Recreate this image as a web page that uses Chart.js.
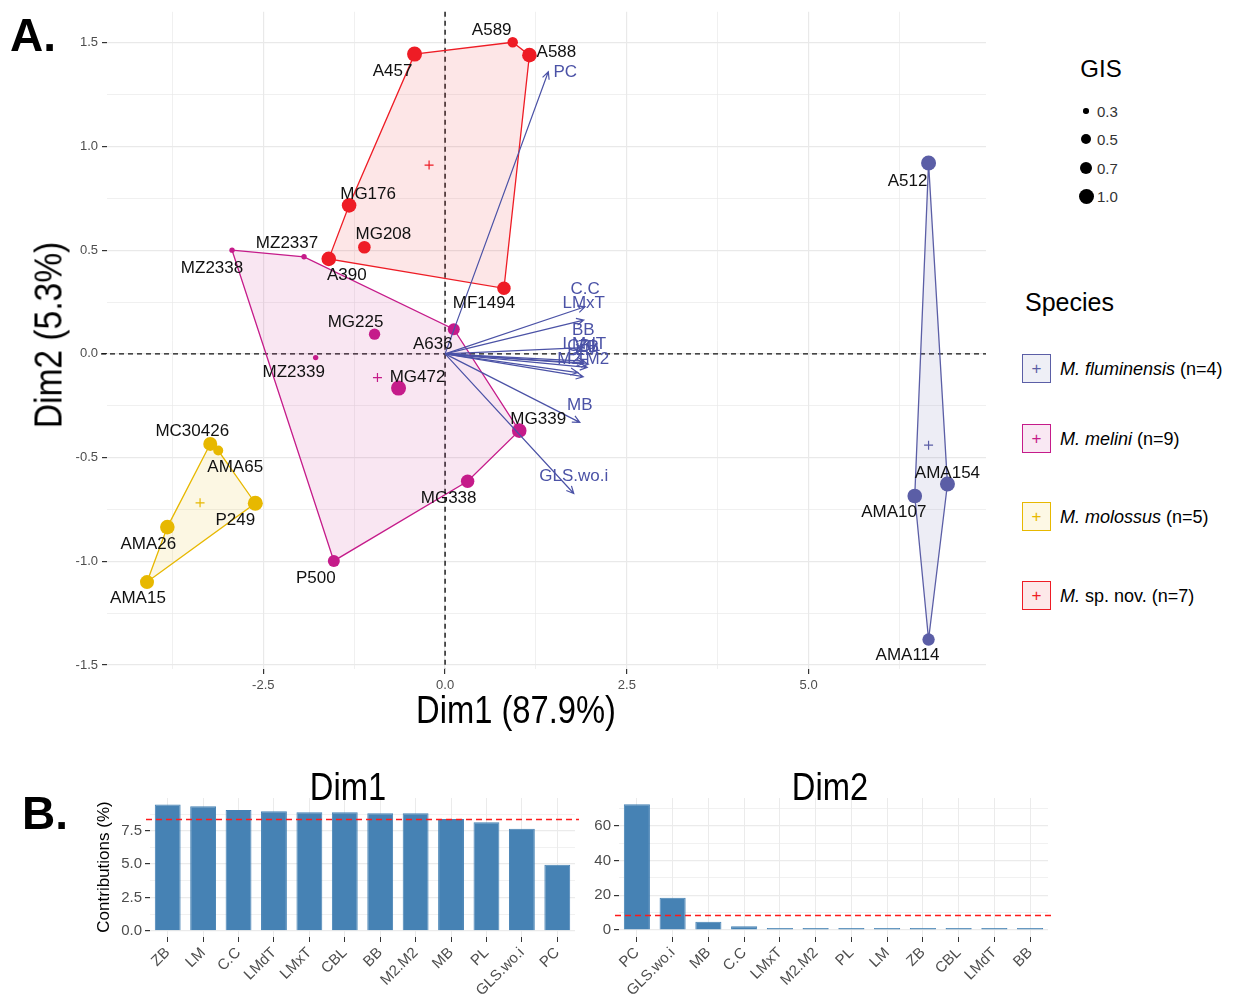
<!DOCTYPE html>
<html>
<head>
<meta charset="utf-8">
<script src="https://cdn.jsdelivr.net/npm/chart.js@4.4.0/dist/chart.umd.min.js"></script>
<style>
  body { margin: 0; background: #fff; width: 1235px; height: 994px; position: relative; overflow: hidden;
         font-family: "Liberation Sans", Arial, sans-serif; color: #000; }
  canvas { position: absolute; }
  #pca { left: 0; top: 0; }
  #dim1Chart { left: 0; top: 760px; }
  #dim2Chart { left: 580px; top: 760px; }
  .txt { position: absolute; white-space: nowrap; line-height: 1; }
  .panel { font-weight: bold; font-size: 46px; }
  .narrow { font-size: 38px; }
  .key { position: absolute; left: 1022px; width: 27px; height: 27px; border: 1.5px solid; text-align: center;
         font-size: 17px; line-height: 27px; }
  .keylab { position: absolute; left: 1060px; font-size: 18px; white-space: nowrap; line-height: 1; transform: translateY(-50%); }
  .dot { position: absolute; background: #000; border-radius: 50%; }
  .gislab { position: absolute; left: 1097px; font-size: 15px; color: #333; line-height: 1; transform: translateY(-50%); }
</style>
</head>
<body>
<canvas id="pca" width="1000" height="745"></canvas>
<canvas id="dim1Chart" width="600" height="234"></canvas>
<canvas id="dim2Chart" width="655" height="234"></canvas>

<div class="txt panel" style="left:10px;top:12px;">A.</div>
<div class="txt panel" style="left:22px;top:790px;">B.</div>
<div class="txt narrow" style="left:516px;top:710px;transform:translate(-50%,-50%) scaleX(0.86);">Dim1 (87.9%)</div>
<div class="txt narrow" style="left:48px;top:335px;font-size:39px;transform:translate(-50%,-50%) rotate(-90deg) scaleX(0.86);">Dim2 (5.3%)</div>
<div class="txt narrow" style="left:348px;top:787px;transform:translate(-50%,-50%) scaleX(0.86);">Dim1</div>
<div class="txt narrow" style="left:830px;top:787px;transform:translate(-50%,-50%) scaleX(0.86);">Dim2</div>
<div class="txt" style="left:103px;top:867px;font-size:17px;transform:translate(-50%,-50%) rotate(-90deg);">Contributions (%)</div>

<div class="txt" style="left:1101px;top:69px;font-size:24px;transform:translate(-50%,-50%);">GIS</div>
<div id="gisLegend"></div>
<div class="txt" style="left:1025px;top:302px;font-size:25px;transform:translateY(-50%);">Species</div>
<div id="speciesLegend"></div>

<script>
// ---- Dados: escores individuais (PCA) ----
const species = ["M. fluminensis", "M. melini", "M. molossus", "M. sp. nov."];
const speciesCounts = [4, 9, 5, 7];
const speciesColors = ["#5b5ea6", "#c51b8a", "#e7b800", "#ee1c25"];

const specimens = ["A512", "AMA154", "AMA107", "AMA114",
  "MZ2338", "MZ2337", "MZ2339", "MG225", "MG472", "A636", "MG339", "MG338", "P500",
  "MC30426", "AMA65", "P249", "AMA26", "AMA15",
  "A589", "A588", "A457", "MG176", "MG208", "A390", "MF1494"];
const specimenSpecies = [0, 0, 0, 0, 1, 1, 1, 1, 1, 1, 1, 1, 1, 2, 2, 2, 2, 2, 3, 3, 3, 3, 3, 3, 3];
const dim1Scores = [6.65, 6.91, 6.46, 6.65,
  -2.93, -1.94, -1.78, -0.97, -0.64, 0.12, 1.02, 0.31, -1.53,
  -3.23, -3.12, -2.61, -3.82, -4.10,
  0.93, 1.16, -0.42, -1.32, -1.11, -1.60, 0.81];
const dim2Scores = [0.92, -0.627, -0.685, -1.377,
  0.50, 0.468, -0.018, 0.095, -0.165, 0.119, -0.37, -0.614, -0.998,
  -0.434, -0.466, -0.72, -0.835, -1.10,
  1.502, 1.44, 1.445, 0.716, 0.514, 0.458, 0.316];
const gisValues = [1.0, 1.0, 0.95, 0.67,
  0.3, 0.3, 0.3, 0.57, 1.0, 0.63, 0.94, 0.79, 0.63,
  0.86, 0.46, 1.0, 0.94, 0.86,
  0.5, 0.94, 1.0, 0.94, 0.69, 0.94, 0.79];
const gisBreaks = [0.3, 0.5, 0.7, 1.0];

// centroides (+) por espécie
const centroidDim1 = [6.65, -0.93, -3.37, -0.22];
const centroidDim2 = [-0.44, -0.114, -0.718, 0.91];

// contorno (casco convexo) de cada espécie
const hullOrder = [
  ["A512", "AMA154", "AMA114", "AMA107"],
  ["MZ2338", "MZ2337", "A636", "MG339", "MG338", "P500"],
  ["MC30426", "AMA65", "P249", "AMA15", "AMA26"],
  ["A589", "A588", "MF1494", "A390", "MG176", "A457"]
];

// ---- Dados: variáveis (setas) ----
const varNames = ["PC", "C.C", "LMxT", "BB", "LMdT", "ZB", "LM", "CBL", "M2.M2", "PL", "MB", "GLS.wo.i"];
const varDim1 = [1.42, 1.925, 1.907, 1.90, 1.915, 1.97, 1.955, 1.907, 1.90, 1.825, 1.853, 1.77];
const varDim2 = [1.36, 0.227, 0.163, 0.03, -0.035, -0.05, -0.065, -0.045, -0.11, -0.09, -0.33, -0.673];

// ---- Dados: contribuições ----
const dim1Vars = ["ZB", "LM", "C.C", "LMdT", "LMxT", "CBL", "BB", "M2.M2", "MB", "PL", "GLS.wo.i", "PC"];
const dim1Contrib = [9.47, 9.33, 9.05, 8.95, 8.88, 8.88, 8.8, 8.8, 8.38, 8.13, 7.65, 4.94];
const dim2Vars = ["PC", "GLS.wo.i", "MB", "C.C", "LMxT", "M2.M2", "PL", "LM", "ZB", "CBL", "LMdT", "BB"];
const dim2Contrib = [72.6, 18.6, 4.8, 2.1, 1.15, 0.3, 0.2, 0.15, 0.1, 0.1, 0.1, 0.05];

// deslocamento dos rótulos em px (apenas estilo)
const labelNudge = {
  A512: [-21, 18], AMA154: [0, -11], AMA107: [-21, 16], AMA114: [-21, 16],
  MZ2338: [-20, 18], MZ2337: [-17, -13], MZ2339: [-22, 15], MG225: [-19, -12], MG472: [19, -11],
  A636: [-21, 15], MG339: [19, -11], MG338: [-19, 17], P500: [-18, 17],
  MC30426: [-18, -13], AMA65: [17, 17], P249: [-20, 17], AMA26: [-19, 17], AMA15: [-9, 16],
  A589: [-21, -12], A588: [27, -3], A457: [-22, 17], MG176: [19, -11], MG208: [19, -13],
  A390: [18, 16], MF1494: [-20, 15]
};
const varNudge = { PC: [17, 1] };

Chart.defaults.font.family = '"Liberation Sans", Arial, sans-serif';

const gisRadius = g => 2.7 + 4.8 * Math.sqrt(Math.max(0, (g - 0.3) / 0.7));

function tint(hex, a) {
  const n = parseInt(hex.slice(1), 16);
  return `rgba(${n >> 16},${(n >> 8) & 255},${n & 255},${a})`;
}

const nearMultiple = (v, step) => Math.abs(v / step - Math.round(v / step)) < 1e-6;

// --- Gráfico A ---
const pcaDecor = {
  id: "pcaDecor",
  beforeDatasetsDraw(chart) {
    const { ctx, chartArea: a, scales: { x, y } } = chart;
    ctx.save();
    // linhas de referência em zero
    ctx.strokeStyle = "#111";
    ctx.lineWidth = 1.4;
    ctx.setLineDash([5, 4]);
    const x0 = x.getPixelForValue(0), y0 = y.getPixelForValue(0);
    ctx.beginPath();
    ctx.moveTo(x0, a.top); ctx.lineTo(x0, a.bottom);
    ctx.moveTo(a.left - 6, y0); ctx.lineTo(a.right, y0);
    ctx.stroke();
    ctx.setLineDash([]);
    // polígonos
    hullOrder.forEach((names, g) => {
      ctx.beginPath();
      names.forEach((n, i) => {
        const k = specimens.indexOf(n);
        const px = x.getPixelForValue(dim1Scores[k]), py = y.getPixelForValue(dim2Scores[k]);
        if (i === 0) ctx.moveTo(px, py); else ctx.lineTo(px, py);
      });
      ctx.closePath();
      ctx.fillStyle = tint(speciesColors[g], 0.11);
      ctx.fill();
      ctx.strokeStyle = speciesColors[g];
      ctx.lineWidth = 1.3;
      ctx.stroke();
    });
    ctx.restore();
  },
  afterDatasetsDraw(chart) {
    const { ctx, scales: { x, y } } = chart;
    const ox = x.getPixelForValue(0), oy = y.getPixelForValue(0);
    ctx.save();
    // setas das variáveis
    ctx.strokeStyle = "#4b52a6";
    ctx.fillStyle = "#4b52a6";
    ctx.lineWidth = 1.2;
    ctx.font = '17px "Liberation Sans", Arial, sans-serif';
    ctx.textAlign = "center";
    ctx.textBaseline = "middle";
    varNames.forEach((name, i) => {
      const tx = x.getPixelForValue(varDim1[i]), ty = y.getPixelForValue(varDim2[i]);
      const ang = Math.atan2(ty - oy, tx - ox);
      ctx.beginPath();
      ctx.moveTo(ox, oy); ctx.lineTo(tx, ty);
      ctx.moveTo(tx - 8 * Math.cos(ang - 0.45), ty - 8 * Math.sin(ang - 0.45));
      ctx.lineTo(tx, ty);
      ctx.lineTo(tx - 8 * Math.cos(ang + 0.45), ty - 8 * Math.sin(ang + 0.45));
      ctx.stroke();
      const nd = varNudge[name] || [0, -17];
      ctx.fillText(name, tx + nd[0], ty + nd[1]);
    });
    // rótulos dos espécimes
    ctx.fillStyle = "#111";
    specimens.forEach((name, i) => {
      const nd = labelNudge[name] || [0, -14];
      ctx.fillText(name, x.getPixelForValue(dim1Scores[i]) + nd[0], y.getPixelForValue(dim2Scores[i]) + nd[1]);
    });
    ctx.restore();
  }
};

const groupDatasets = species.map((sp, g) => {
  const idx = specimens.map((_, i) => i).filter(i => specimenSpecies[i] === g);
  return {
    label: sp,
    data: idx.map(i => ({ x: dim1Scores[i], y: dim2Scores[i] })),
    pointRadius: idx.map(i => gisRadius(gisValues[i])),
    backgroundColor: speciesColors[g],
    borderColor: speciesColors[g],
    borderWidth: 0
  };
});

new Chart(document.getElementById("pca"), {
  type: "scatter",
  data: {
    datasets: [
      ...groupDatasets,
      {
        label: "centroides",
        data: centroidDim1.map((v, g) => ({ x: v, y: centroidDim2[g] })),
        pointStyle: "cross",
        pointRadius: 4.5,
        borderColor: speciesColors,
        borderWidth: 1.2
      }
    ]
  },
  options: {
    responsive: false,
    animation: false,
    events: [],
    layout: { padding: { left: 47, right: 14, top: 10, bottom: 46 } },
    plugins: { legend: { display: false }, tooltip: { enabled: false } },
    scales: {
      x: {
        type: "linear", min: -4.65, max: 7.44,
        afterBuildTicks: s => { s.ticks = [-3.75, -2.5, -1.25, 0, 1.25, 2.5, 3.75, 5, 6.25].map(v => ({ value: v })); },
        afterFit: s => { s.height = 30; },
        border: { display: false },
        grid: {
          color: "#e9e9e9",
          lineWidth: c => nearMultiple(c.tick.value, 2.5) ? 1.2 : 0.7,
          tickColor: c => nearMultiple(c.tick.value, 2.5) ? "#333" : "rgba(0,0,0,0)",
          tickLength: 5
        },
        ticks: {
          autoSkip: false, maxRotation: 0, padding: 4, color: "#4d4d4d", font: { size: 13 },
          callback: v => nearMultiple(v, 2.5) ? v.toFixed(1) : ""
        }
      },
      y: {
        type: "linear", min: -1.519, max: 1.649,
        afterBuildTicks: s => { s.ticks = [-1.5, -1.25, -1, -0.75, -0.5, -0.25, 0, 0.25, 0.5, 0.75, 1, 1.25, 1.5].map(v => ({ value: v })); },
        afterFit: s => { s.width = 60; },
        border: { display: false },
        grid: {
          color: "#e9e9e9",
          lineWidth: c => nearMultiple(c.tick.value, 0.5) ? 1.2 : 0.7,
          tickColor: c => nearMultiple(c.tick.value, 0.5) ? "#333" : "rgba(0,0,0,0)",
          tickLength: 5
        },
        ticks: {
          autoSkip: false, padding: 4, color: "#4d4d4d", font: { size: 13 },
          callback: v => nearMultiple(v, 0.5) ? v.toFixed(1) : ""
        }
      }
    }
  },
  plugins: [pcaDecor]
});

// --- Gráficos B ---
const refLine = {
  id: "refLine",
  afterDatasetsDraw(chart, args, opts) {
    const { ctx, chartArea: a, scales: { y } } = chart;
    const py = y.getPixelForValue(opts.value);
    ctx.save();
    ctx.strokeStyle = "#ff1a1a";
    ctx.lineWidth = 1.5;
    ctx.setLineDash([6, 4]);
    ctx.beginPath();
    ctx.moveTo(a.left - 4, py); ctx.lineTo(a.right + 4, py);
    ctx.stroke();
    ctx.restore();
  }
};

function contribChart(canvasId, names, values, cfg) {
  return new Chart(document.getElementById(canvasId), {
    type: "bar",
    data: {
      labels: names,
      datasets: [{
        data: values,
        backgroundColor: "#4682b4",
        borderColor: "#4682b4",
        borderWidth: 1,
        barPercentage: 0.73,
        categoryPercentage: 1,
        minBarLength: 2
      }]
    },
    options: {
      responsive: false,
      animation: false,
      events: [],
      layout: { padding: cfg.padding },
      plugins: { legend: { display: false }, tooltip: { enabled: false }, refLine: { value: 100 / names.length } },
      scales: {
        x: {
          afterFit: s => { s.height = 57; },
          border: { display: false },
          grid: { offset: false, color: "#ebebeb", tickColor: "#333", tickLength: 5 },
          ticks: { autoSkip: false, minRotation: 45, maxRotation: 45, padding: 2, color: "#4d4d4d", font: { size: 15 } }
        },
        y: {
          min: cfg.min, max: cfg.max,
          afterBuildTicks: s => { s.ticks = cfg.ticks.map(v => ({ value: v })); },
          afterFit: s => { s.width = cfg.yWidth; },
          border: { display: false },
          grid: {
            color: "#ebebeb",
            lineWidth: c => nearMultiple(c.tick.value, cfg.major) ? 1.2 : 0.7,
            tickColor: c => nearMultiple(c.tick.value, cfg.major) ? "#333" : "rgba(0,0,0,0)",
            tickLength: 5
          },
          ticks: {
            autoSkip: false, padding: 3, color: "#4d4d4d", font: { size: 15 },
            callback: v => nearMultiple(v, cfg.major) ? cfg.fmt(v) : ""
          }
        }
      }
    },
    plugins: [refLine]
  });
}

contribChart("dim1Chart", dim1Vars, dim1Contrib, {
  padding: { left: 100, right: 25, top: 38, bottom: 0 },
  yWidth: 50, min: -0.47, max: 9.95, major: 2.5,
  ticks: [0, 1.25, 2.5, 3.75, 5, 6.25, 7.5, 8.75],
  fmt: v => v.toFixed(1)
});

contribChart("dim2Chart", dim2Vars, dim2Contrib, {
  padding: { left: 0, right: 187, top: 38, bottom: 0 },
  yWidth: 39, min: -4.04, max: 76.15, major: 20,
  ticks: [0, 10, 20, 30, 40, 50, 60, 70],
  fmt: v => String(Math.round(v))
});

// --- Legendas (HTML) ---
const gisBox = document.getElementById("gisLegend");
const gisRows = [111, 139, 168, 196];
gisBreaks.forEach((g, i) => {
  const r = gisRadius(g);
  const d = document.createElement("div");
  d.className = "dot";
  d.style.cssText = `left:${1086 - r}px;top:${gisRows[i] - r}px;width:${2 * r}px;height:${2 * r}px;`;
  gisBox.appendChild(d);
  const t = document.createElement("div");
  t.className = "gislab";
  t.style.top = gisRows[i] + "px";
  t.textContent = g.toFixed(1);
  gisBox.appendChild(t);
});

const spBox = document.getElementById("speciesLegend");
const spRows = [369, 439, 517, 596];
species.forEach((sp, g) => {
  const k = document.createElement("div");
  k.className = "key";
  k.style.cssText = `top:${spRows[g] - 15}px;border-color:${speciesColors[g]};background:${tint(speciesColors[g], 0.1)};color:${speciesColors[g]};`;
  k.textContent = "+";
  spBox.appendChild(k);
  const t = document.createElement("div");
  t.className = "keylab";
  t.style.top = spRows[g] + "px";
  const parts = sp.split(" ");
  const rest = parts.slice(1).join(" ");
  t.innerHTML = rest.startsWith("sp.")
    ? `<i>${parts[0]}</i> ${rest} (n=${speciesCounts[g]})`
    : `<i>${parts[0]} ${rest}</i> (n=${speciesCounts[g]})`;
  spBox.appendChild(t);
});
</script>
</body>
</html>
